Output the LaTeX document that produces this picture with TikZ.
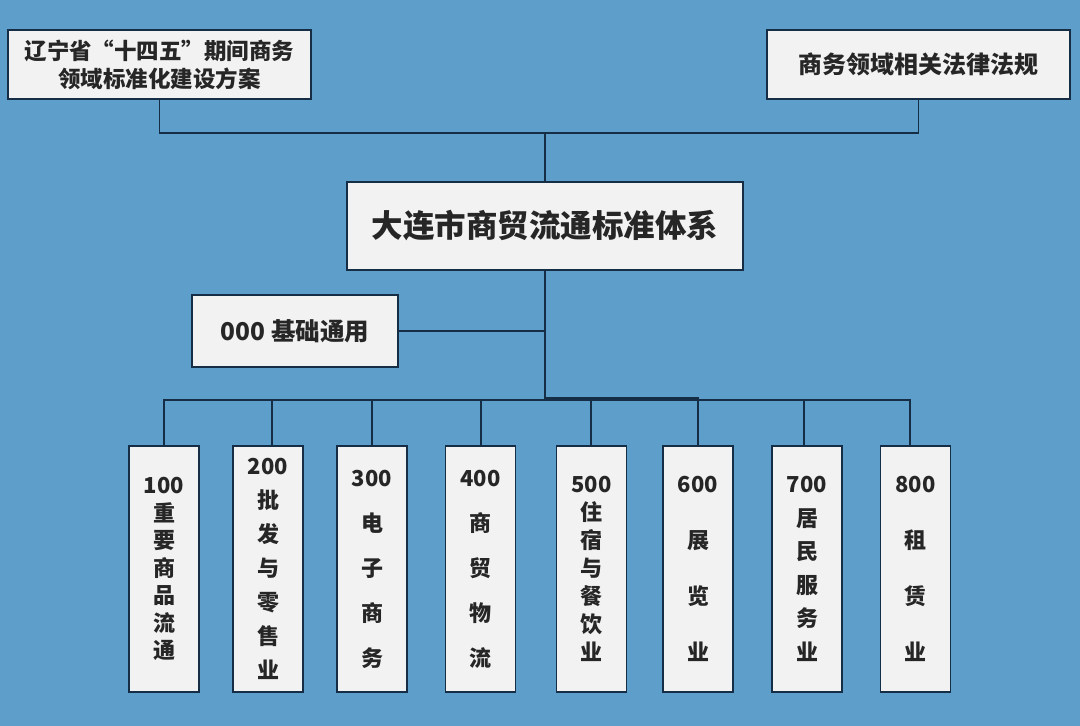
\documentclass[tikz,border=0pt]{standalone}
\usepackage{fontspec}
\setmainfont{Noto Sans CJK SC}
\definecolor{bg}{RGB}{94,158,202}
\definecolor{boxfill}{RGB}{242,242,242}
\definecolor{ln}{RGB}{22,45,70}
\begin{document}
\begin{tikzpicture}[x=1pt,y=-1pt,
  nbox/.style={draw=ln, line width=1.5pt, fill=boxfill, inner sep=0pt, align=center, text=black!85},
  bbox/.style={nbox, minimum width=70pt, minimum height=246pt},
  conn/.style={draw=ln, line width=1.6pt},
  thickconn/.style={draw=ln, line width=2.2pt}]
\fill[bg] (0,0) rectangle (1080,726);
\useasboundingbox (0,0) rectangle (1080,726);

% top boxes
\node[nbox, minimum width=303pt, minimum height=69pt, font=\bfseries\fontsize{22.5}{28}\selectfont] (plan) at (159.5,64.5) {辽宁省“十四五”期间商务\\领域标准化建设方案};
\node[nbox, minimum width=303pt, minimum height=69pt, font=\bfseries\fontsize{24}{28}\selectfont] (law) at (918.5,64.5) {商务领域相关法律法规};
\node[nbox, minimum width=396pt, minimum height=88pt, font=\bfseries\fontsize{31.5}{36}\selectfont] (title) at (545,226) {大连市商贸流通标准体系};
\node[nbox, minimum width=206pt, minimum height=72pt, font=\bfseries\fontsize{24.5}{28}\selectfont] (base) at (295,331) {000 基础通用};

% bottom boxes
\node[bbox, font=\bfseries\fontsize{22}{27.5}\selectfont] (b1) at (164,569) {100\\重\\要\\商\\品\\流\\通};
\node[bbox, font=\bfseries\fontsize{22}{34}\selectfont] (b2) at (268,569) {200\\批\\发\\与\\零\\售\\业};
\node[bbox, font=\bfseries\fontsize{22}{45}\selectfont] (b3) at (372,569) {300\\电\\子\\商\\务};
\node[bbox, font=\bfseries\fontsize{22}{45}\selectfont] (b4) at (480.5,569) {400\\商\\贸\\物\\流};
\node[bbox, font=\bfseries\fontsize{22}{28}\selectfont] (b5) at (591.5,569) {500\\住\\宿\\与\\餐\\饮\\业};
\node[bbox, font=\bfseries\fontsize{22}{56}\selectfont] (b6) at (698,569) {600\\展\\览\\业};
\node[bbox, font=\bfseries\fontsize{22}{33.6}\selectfont] (b7) at (807,569) {700\\居\\民\\服\\务\\业};
\node[bbox, font=\bfseries\fontsize{22}{56}\selectfont] (b8) at (915.5,569) {800\\租\\赁\\业};

% connectors
\coordinate (top) at (545,133);
\coordinate (hub) at (545,398);
\coordinate (bus) at (545,400);
\draw[conn] (plan.south) |- (top) -| (law.south);
\draw[conn] (top) -- (title.north);
\draw[conn] (title.south |- base.east) -- (base.east);
\draw[conn] ([xshift=0pt]b1.north) |- (bus);
\draw[conn] ([xshift=4pt]b2.north) |- (bus);
\draw[conn] (b3.north) |- (bus);
\draw[conn] ([xshift=0.5pt]b4.north) |- (bus);
\draw[conn] ([xshift=-0.5pt]b5.north) |- (bus);
\draw[conn] (b6.north) |- (bus);
\draw[conn] ([xshift=-3pt]b7.north) |- (bus);
\draw[conn] ([xshift=-5.5pt]b8.north) |- (bus);
\draw[thickconn] (title.south) -- (hub) -| (b6.north |- bus);
\end{tikzpicture}
\end{document}
